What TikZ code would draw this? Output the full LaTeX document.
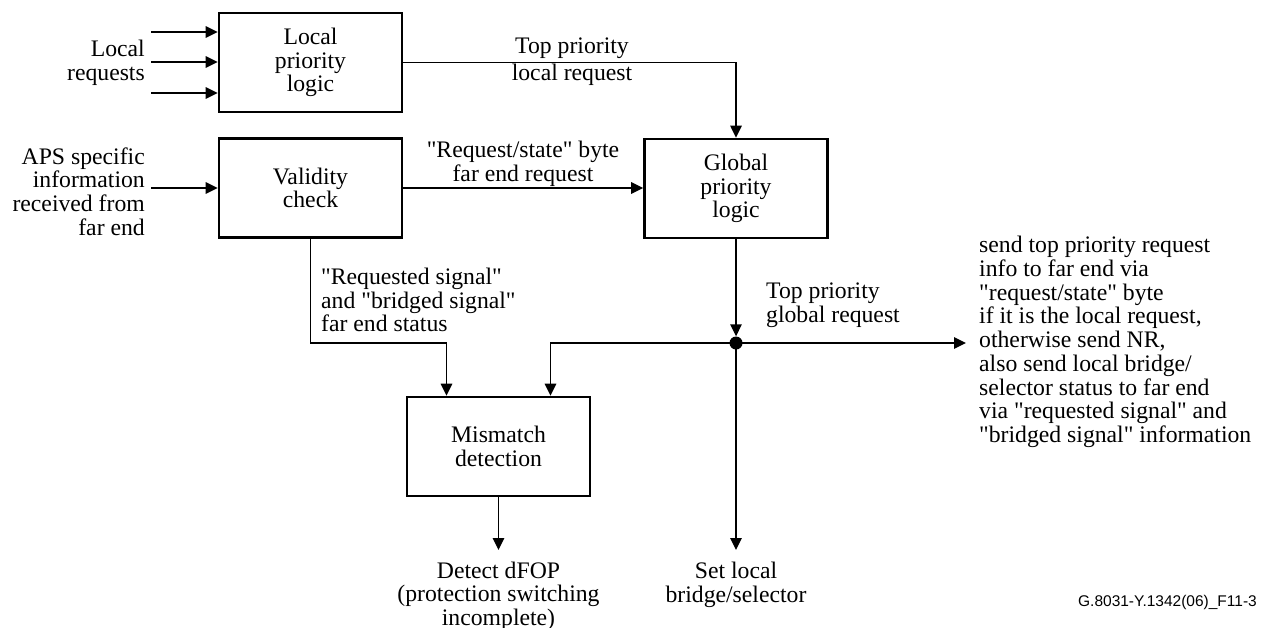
\documentclass[tikz,border=0pt]{standalone}
\usepackage{fontspec}
\setmainfont{Liberation Serif}[Ligatures=TeXOff]
\newfontfamily\figsans{Liberation Sans}
\usetikzlibrary{arrows.meta}

\begin{document}
\begin{tikzpicture}[x=1pt,y=-1pt,
  txt/.style={font=\fontsize{23.7}{23.7}\selectfont, inner sep=0pt},
  block/.style={draw, line width=2.8pt, minimum width=183, minimum height=99,
    txt, align=center},
  arr/.style={line width=1.5pt, -{Triangle[length=12pt,width=11.5pt]}},
  dotnode/.style={circle, fill, inner sep=0pt, minimum size=13pt}]

\useasboundingbox (0,0) rectangle (1264,627);

% processing blocks
\node[block] (lpl) at (310.5,62.5) {Local\\priority\\logic};
\node[block] (vc)  at (310.5,188)  {Validity\\check};
\node[block] (gpl) at (736,188.5)  {Global\\priority\\logic};
\node[block] (mm)  at (498.5,446.5) {Mismatch\\detection};

% junction of the global request
\node[dotnode] (j) at (736,343) {};

% free ends
\coordinate (in1) at (151,32);
\coordinate (in2) at (151,62);
\coordinate (in3) at (151,93);
\coordinate (in4) at (151,188);
\coordinate (outR) at (966,343);
\coordinate (outS) at (736,550);
\coordinate (outD) at (498.5,550);

% inputs
\draw[arr] (in1) -- (in1 -| lpl.west);
\draw[arr] (in2) -- (in2 -| lpl.west);
\draw[arr] (in3) -- (in3 -| lpl.west);
\draw[arr] (in4) -- (in4 -| vc.west);

% flows between blocks
\draw[arr] (lpl.east) -- (gpl.north |- lpl.east) -- (gpl.north);
\draw[arr] (vc.east) -- (vc.east -| gpl.west);
\draw[arr] (gpl.south) -- (j.north);
\draw[arr] (j.center) -- (outR);
\draw[arr] (j.center) -- (outS);
\draw[arr] (j.center) -| ([xshift=52]mm.north);
\draw[arr] (vc.south) -- (vc.south |- j) -| ([xshift=-52]mm.north);
\draw[arr] (mm.south) -- (outD);

% labels
\node[txt, anchor=east, align=right] (lreq) at (145,62.5) {Local\\requests};
\node[txt, anchor=east, align=right] (aps) at (145,191.5)
  {APS specific\\information\\received from\\far end};
\node[txt, align=center] (tpl) at (572,61.5) {Top priority\\[3pt]local request};
\node[txt, align=center] (rsb) at (523,164) {"Request/state" byte\\far end request};
\node[txt, anchor=west, align=left] (rss) at (321,300)
  {"Requested signal"\\and "bridged signal"\\far end status};
\node[txt, anchor=west, align=left] (tpg) at (766,305) {Top priority\\global request};
\node[txt, anchor=west, align=left] (snd) at (979,342)
  {send top priority request\\info to far end via\\"request/state" byte\\if it is the local request,\\otherwise send NR,\\also send local bridge/\\selector status to far end\\via "requested signal" and\\"bridged signal" information};
\node[txt, align=center] (dfop) at (498.5,596)
  {Detect dFOP\\(protection switching\\incomplete)};
\node[txt, align=center] (setl) at (736,585) {Set local\\bridge/selector};
\node[font=\figsans\fontsize{15.5}{18}\selectfont, anchor=east, inner sep=0pt] (fig)
  at (1257,602) {G.8031-Y.1342(06)\_F11-3};

\end{tikzpicture}
\end{document}
